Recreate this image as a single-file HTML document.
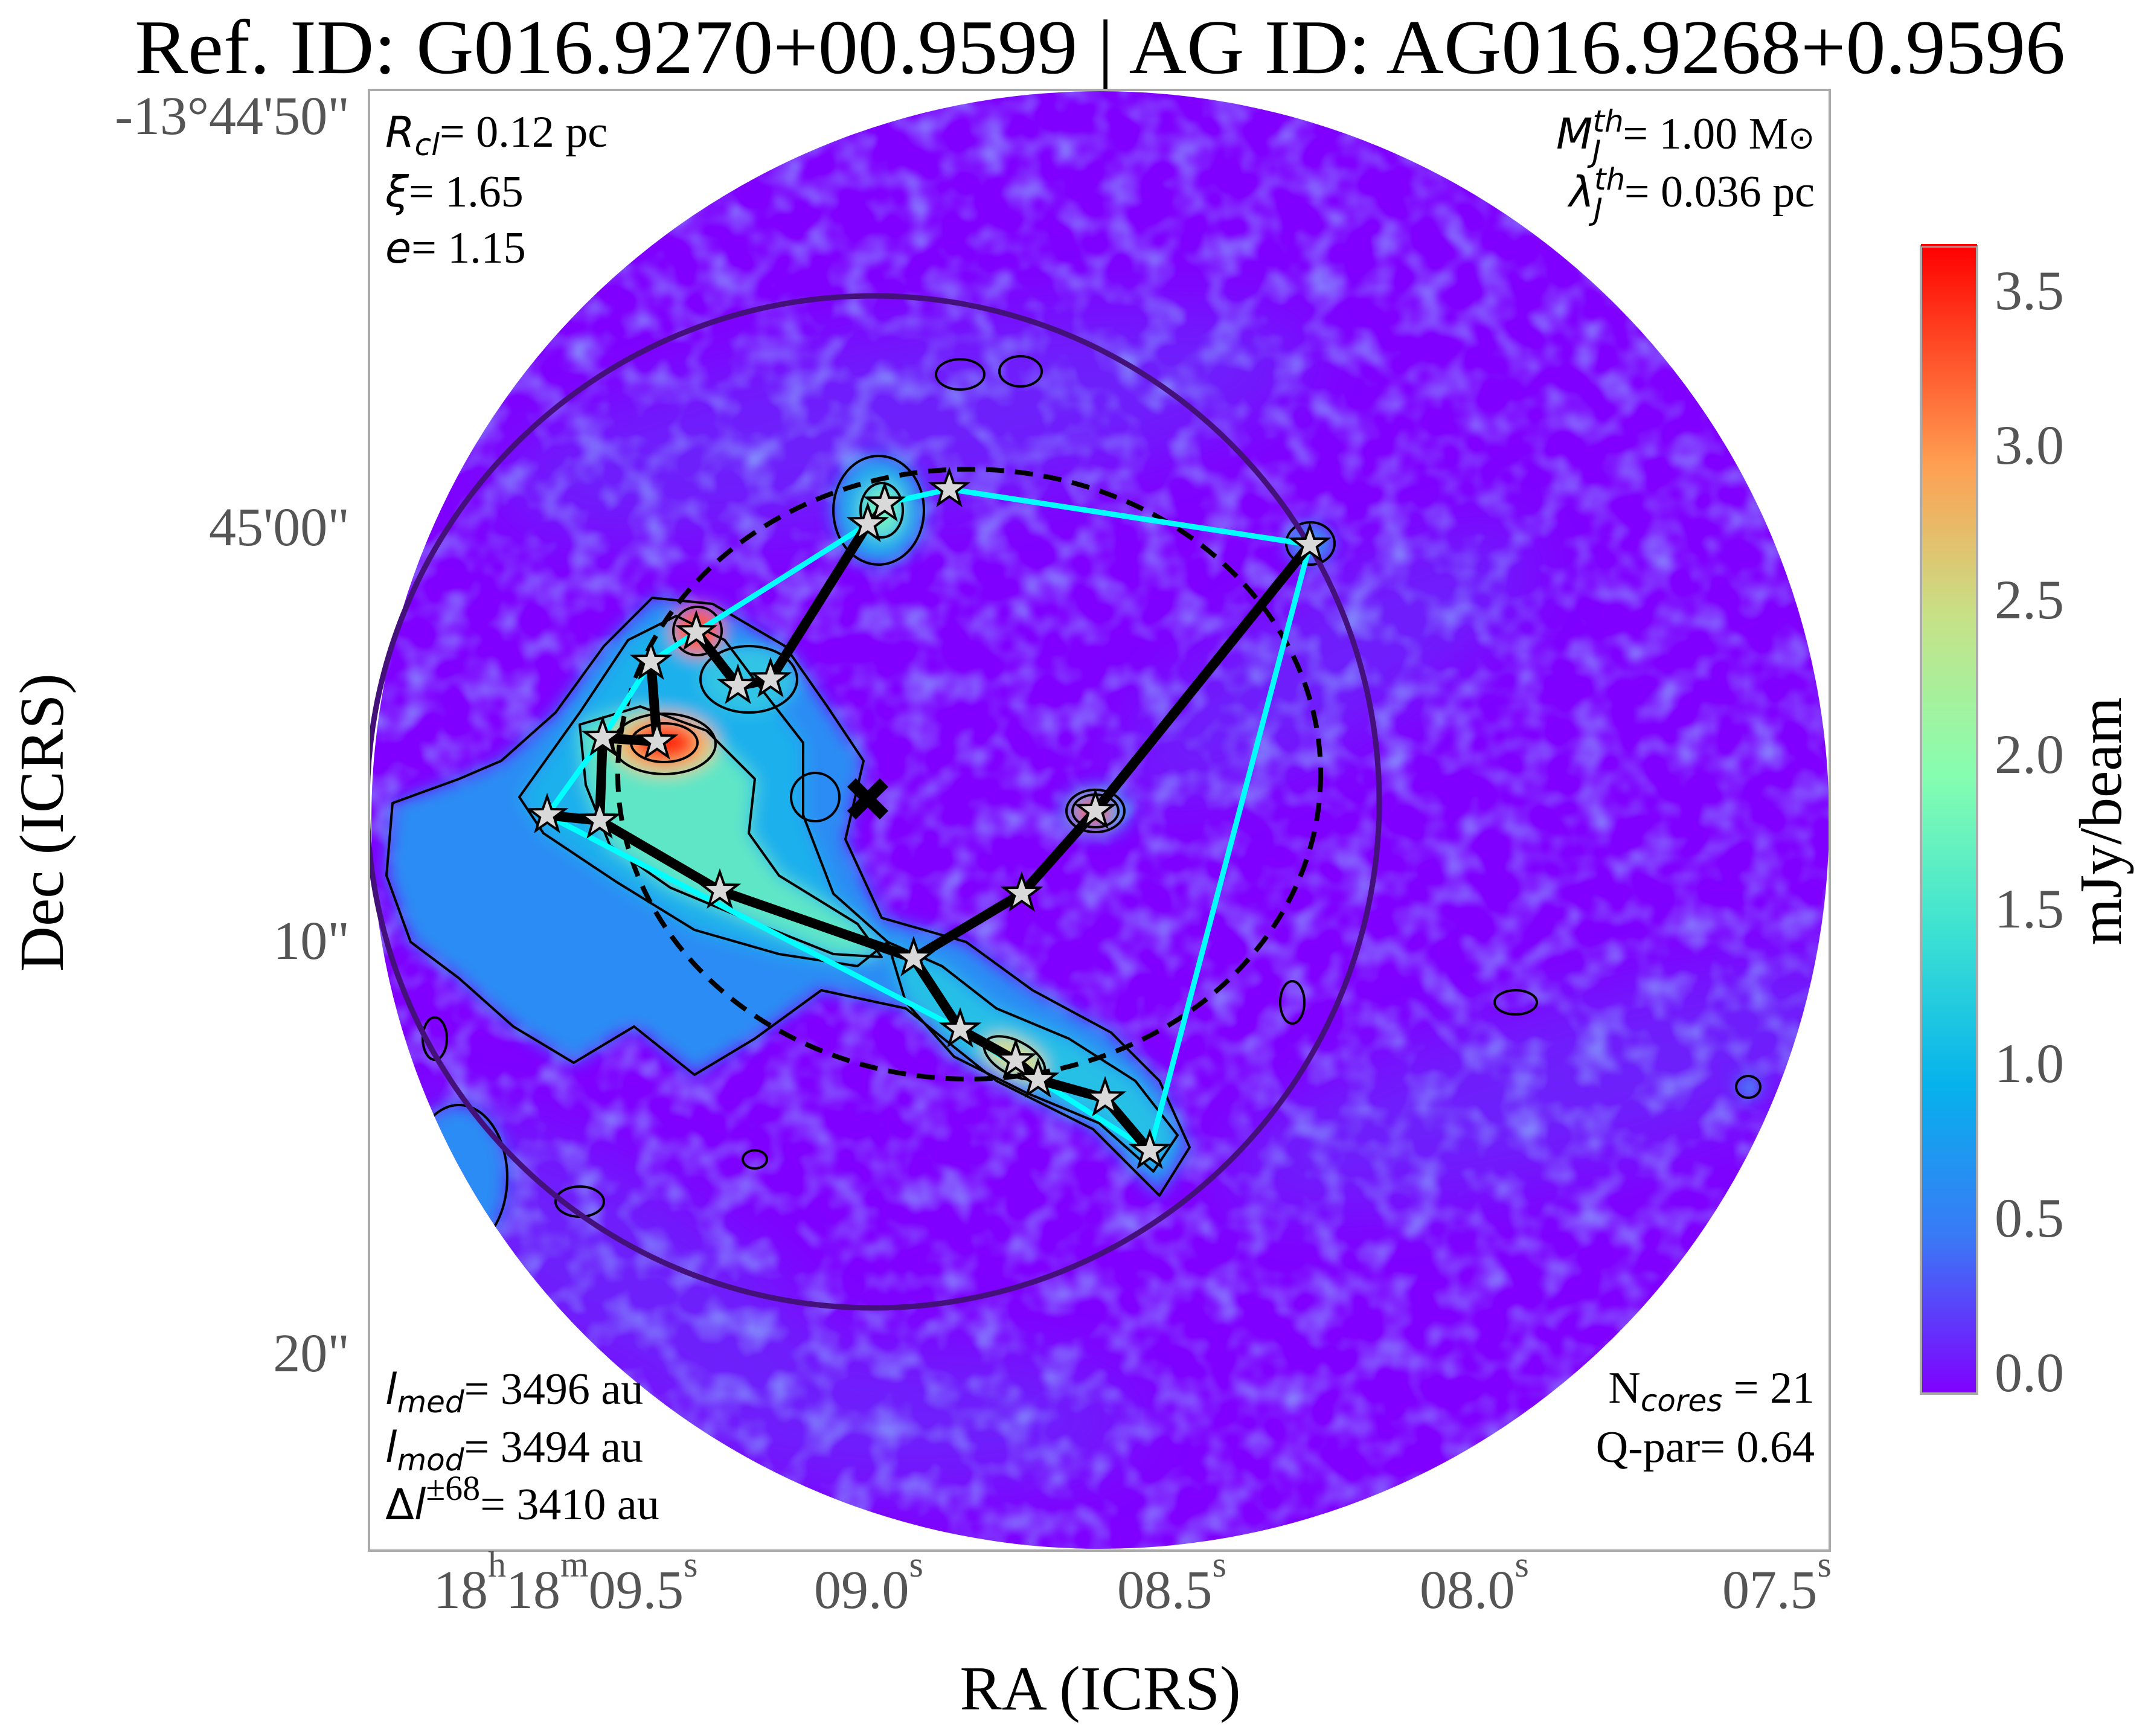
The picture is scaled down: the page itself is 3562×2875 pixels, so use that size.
<!DOCTYPE html>
<html><head><meta charset="utf-8"><style>
html,body{margin:0;padding:0;background:#fff;}
svg{display:block;}
</style></head><body>
<svg xmlns="http://www.w3.org/2000/svg" xmlns:xlink="http://www.w3.org/1999/xlink" width="3562" height="2875" viewBox="0 0 3562 2875">
<defs>
  <clipPath id="ax"><rect x="611" y="149" width="2419" height="2419"/></clipPath>
  <clipPath id="disk"><circle cx="1822" cy="1358" r="1207"/></clipPath>
  <filter id="noise" x="0" y="0" width="100%" height="100%">
    <feTurbulence type="fractalNoise" baseFrequency="0.018" numOctaves="2" seed="7" result="t"/>
    <feColorMatrix in="t" type="matrix" values="0 0 0 0 0.25  0 0 0 0 0.38  0 0 0 0 0.97  2.2 0 0 0 -0.95"/>
  </filter>
  <filter id="bl" x="-20%" y="-20%" width="140%" height="140%"><feGaussianBlur stdDeviation="14"/></filter>
  <filter id="bl2" x="-30%" y="-30%" width="160%" height="160%"><feGaussianBlur stdDeviation="60"/></filter>
  <linearGradient id="cb" x1="0" y1="1" x2="0" y2="0">
    <stop offset="0" stop-color="#8000ff"/>
    <stop offset="0.135" stop-color="#3b78f6"/>
    <stop offset="0.27" stop-color="#06b2ec"/>
    <stop offset="0.405" stop-color="#3ee2d2"/>
    <stop offset="0.54" stop-color="#86feb0"/>
    <stop offset="0.675" stop-color="#c6e288"/>
    <stop offset="0.81" stop-color="#ff9f52"/>
    <stop offset="0.95" stop-color="#ff2c16"/>
    <stop offset="1" stop-color="#ff0000"/>
  </linearGradient>
  <polygon id="st" points="0,-31 7.3,-10 29.5,-9.6 11.8,3.8 18.2,25.1 0,12.4 -18.2,25.1 -11.8,3.8 -29.5,-9.6 -7.3,-10" fill="#d9d9d9" stroke="#000" stroke-width="4" stroke-linejoin="miter"/>
</defs>

<text x="223" y="121" font-family="Liberation Serif, serif" font-size="128" textLength="3197" lengthAdjust="spacingAndGlyphs" fill="#000">Ref. ID: G016.9270+00.9599 | AG ID: AG016.9268+0.9596</text>

<g clip-path="url(#ax)">
 <g clip-path="url(#disk)">
  <rect x="600" y="140" width="2450" height="2440" fill="#7f00ff"/>
  <g filter="url(#bl2)" opacity="0.45">
    <ellipse cx="1500" cy="700" rx="700" ry="150" fill="#5a48f6" transform="rotate(-10 1500 700)"/>
    <ellipse cx="2600" cy="1800" rx="600" ry="140" fill="#5a48f6" transform="rotate(-15 2600 1800)"/>
    <ellipse cx="1000" cy="2100" rx="450" ry="160" fill="#5a48f6" transform="rotate(30 1000 2100)"/>
    <ellipse cx="2200" cy="1100" rx="400" ry="120" fill="#5a48f6" transform="rotate(-30 2200 1100)"/>
    <ellipse cx="1500" cy="2350" rx="400" ry="120" fill="#5a48f6"/>
  </g>
  <rect x="600" y="140" width="2450" height="2440" filter="url(#noise)" opacity="0.75"/>
  <g filter="url(#bl)">
    <polygon fill="#2a8cf4" points="650,1330 760,1290 830,1260 920,1180 1000,1070 1080,990 1180,1000 1300,1070 1370,1170 1430,1260 1400,1390 1460,1520 1600,1560 1710,1640 1840,1710 1920,1790 1970,1900 1920,1980 1810,1870 1650,1790 1500,1670 1360,1640 1250,1720 1150,1780 1050,1700 950,1760 850,1700 760,1620 680,1560 640,1450"/>
    <polygon fill="#1fb0ec" points="860,1320 960,1180 1040,1060 1120,1020 1200,1060 1260,1140 1330,1230 1330,1350 1380,1480 1470,1560 1420,1600 1290,1580 1150,1540 1020,1460 900,1380"/>
    <polygon fill="#5ee6c6" points="960,1200 1060,1170 1170,1210 1250,1290 1240,1380 1290,1450 1420,1530 1460,1585 1380,1580 1230,1520 1110,1470 1010,1400 970,1300"/>
    <ellipse cx="1100" cy="1232" rx="85" ry="50" fill="#f2c070"/>
    <ellipse cx="1100" cy="1230" rx="55" ry="32" fill="#ff2a10"/>
    <polygon fill="#28bfe6" points="1470,1560 1560,1600 1650,1670 1770,1720 1880,1790 1950,1880 1910,1940 1820,1860 1700,1810 1580,1750 1500,1660"/>
    <ellipse cx="1680" cy="1752" rx="55" ry="28" fill="#d8e090" transform="rotate(28 1680 1752)"/>
    <ellipse cx="1455" cy="845" rx="75" ry="90" fill="#24a8ee"/>
    <ellipse cx="1460" cy="845" rx="35" ry="45" fill="#6ff0c8"/>
    <ellipse cx="1240" cy="1125" rx="80" ry="55" fill="#30c4e4"/>
    <ellipse cx="1155" cy="1045" rx="40" ry="40" fill="#ff5a30"/>
    <ellipse cx="1814" cy="1343" rx="55" ry="40" fill="#2ab0ee"/>
    <ellipse cx="1810" cy="1345" rx="30" ry="20" fill="#ff2a10"/>
    <ellipse cx="2170" cy="900" rx="40" ry="35" fill="#3a90f4"/>
    <ellipse cx="760" cy="1950" rx="80" ry="120" fill="#2a8cf4"/>
    <ellipse cx="2895" cy="1800" rx="20" ry="18" fill="#3a90f4"/>
  </g>
  <g fill="none" stroke="#000" stroke-width="4" stroke-linejoin="round">
    <polygon points="650,1330 760,1290 830,1260 920,1180 1000,1070 1080,990 1180,1000 1300,1070 1370,1170 1430,1260 1400,1390 1460,1520 1600,1560 1710,1640 1840,1710 1920,1790 1970,1900 1920,1980 1810,1870 1650,1790 1500,1670 1360,1640 1250,1720 1150,1780 1050,1700 950,1760 850,1700 760,1620 680,1560 640,1450"/>
    <polygon points="860,1320 960,1180 1040,1060 1120,1020 1200,1060 1260,1140 1330,1230 1330,1350 1380,1480 1470,1560 1420,1600 1290,1580 1150,1540 1020,1460 900,1380"/>
    <polygon points="960,1200 1060,1170 1170,1210 1250,1290 1240,1380 1290,1450 1420,1530 1460,1585 1380,1580 1230,1520 1110,1470 1010,1400 970,1300"/>
    <ellipse cx="1100" cy="1232" rx="85" ry="50"/>
    <ellipse cx="1100" cy="1230" rx="55" ry="32"/>
    <polygon points="1470,1560 1560,1600 1650,1670 1770,1720 1880,1790 1950,1880 1910,1940 1820,1860 1700,1810 1580,1750 1500,1660"/>
    <ellipse cx="1680" cy="1752" rx="55" ry="28" transform="rotate(28 1680 1752)"/>
    <ellipse cx="1455" cy="845" rx="75" ry="90"/>
    <ellipse cx="1460" cy="845" rx="35" ry="45"/>
    <ellipse cx="1240" cy="1125" rx="80" ry="55"/>
    <ellipse cx="1155" cy="1045" rx="40" ry="40"/>
    <ellipse cx="1814" cy="1343" rx="48" ry="35"/>
    <ellipse cx="1814" cy="1343" rx="38" ry="27"/>
    <ellipse cx="2170" cy="900" rx="40" ry="35"/>
    <ellipse cx="760" cy="1950" rx="80" ry="120"/>
    <ellipse cx="2895" cy="1800" rx="20" ry="18"/>
    <ellipse cx="960" cy="1990" rx="40" ry="25"/>
    <ellipse cx="1590" cy="620" rx="40" ry="25"/>
    <ellipse cx="1690" cy="615" rx="35" ry="25"/>
    <ellipse cx="2510" cy="1660" rx="35" ry="20"/>
    <ellipse cx="2140" cy="1660" rx="20" ry="35"/>
    <ellipse cx="720" cy="1720" rx="20" ry="35"/>
    <ellipse cx="1250" cy="1920" rx="20" ry="15"/>
    <ellipse cx="1350" cy="1320" rx="40" ry="40"/>
  </g>
 </g>
 <circle cx="1446" cy="1328" r="838" fill="none" stroke="#44107a" stroke-width="9"/>
 <ellipse cx="1605" cy="1282" rx="582" ry="505" fill="none" stroke="#000" stroke-width="8" stroke-dasharray="30,18"/>
 <polyline fill="none" stroke="#00ffff" stroke-width="9" stroke-linejoin="round" points="906,1350 998,1222 1078,1096 1153,1047 1437,868 1465,834 1572,810 2169,902 1904,1906 1719,1788 1590,1705 906,1350"/>
 <g fill="none" stroke="#000" stroke-width="16" stroke-linecap="round" stroke-linejoin="round">
  <polyline points="1437,868 1276,1125 1222,1136 1153,1047"/>
  <polyline points="1078,1096 1088,1228 998,1222 993,1359 906,1350"/>
  <polyline points="993,1359 1192,1475 1513,1587 1692,1480 1814,1343 2169,902"/>
  <polyline points="1513,1587 1590,1705 1682,1756 1719,1788 1830,1819 1904,1906"/>
  <polyline points="1437,868 1465,834" stroke-width="10"/>
 </g>
 <g stroke="#000" stroke-width="20" stroke-linecap="butt">
  <line x1="1410" y1="1296" x2="1464" y2="1350"/><line x1="1464" y1="1296" x2="1410" y2="1350"/>
 </g>
 <use xlink:href="#st" x="1572" y="810"/><use xlink:href="#st" x="1465" y="834"/><use xlink:href="#st" x="1437" y="868"/>
 <use xlink:href="#st" x="2169" y="902"/><use xlink:href="#st" x="1153" y="1047"/><use xlink:href="#st" x="1078" y="1096"/>
 <use xlink:href="#st" x="1222" y="1136"/><use xlink:href="#st" x="1276" y="1125"/><use xlink:href="#st" x="998" y="1222"/>
 <use xlink:href="#st" x="1088" y="1228"/><use xlink:href="#st" x="906" y="1350"/><use xlink:href="#st" x="993" y="1359"/>
 <use xlink:href="#st" x="1814" y="1343"/><use xlink:href="#st" x="1692" y="1480"/><use xlink:href="#st" x="1192" y="1475"/>
 <use xlink:href="#st" x="1513" y="1587"/><use xlink:href="#st" x="1590" y="1705"/><use xlink:href="#st" x="1682" y="1756"/>
 <use xlink:href="#st" x="1719" y="1788"/><use xlink:href="#st" x="1830" y="1819"/><use xlink:href="#st" x="1904" y="1906"/>
</g>
<rect x="611" y="149" width="2419" height="2419" fill="none" stroke="#aaaaaa" stroke-width="4"/>

<g font-family="Liberation Serif, serif" font-size="74" fill="#000">
 <text x="638" y="243"><tspan font-family="DejaVu Sans, sans-serif" font-style="italic" font-size="70">R</tspan><tspan font-family="DejaVu Sans, sans-serif" font-style="italic" font-size="50" dy="14">cl</tspan><tspan dy="-14">= 0.12 pc</tspan></text>
 <text x="638" y="342"><tspan font-family="DejaVu Sans, sans-serif" font-style="italic" font-size="70">ξ</tspan>= 1.65</text>
 <text x="638" y="435"><tspan font-family="DejaVu Sans, sans-serif" font-style="italic" font-size="70">e</tspan>= 1.15</text>
 <text x="3005" y="246" text-anchor="end"><tspan font-family="DejaVu Sans, sans-serif" font-style="italic" font-size="70">M</tspan><tspan font-family="DejaVu Sans, sans-serif" font-style="italic" font-size="50" dy="-28">th</tspan><tspan font-family="DejaVu Sans, sans-serif" font-style="italic" font-size="50" dx="-52" dy="50">J</tspan><tspan dx="36" dy="-22">= 1.00 M</tspan><tspan font-family="DejaVu Sans, sans-serif" font-size="52">⊙</tspan></text>
 <text x="3005" y="342" text-anchor="end"><tspan font-family="DejaVu Sans, sans-serif" font-style="italic" font-size="70">λ</tspan><tspan font-family="DejaVu Sans, sans-serif" font-style="italic" font-size="50" dy="-28">th</tspan><tspan font-family="DejaVu Sans, sans-serif" font-style="italic" font-size="50" dx="-52" dy="50">J</tspan><tspan dx="36" dy="-22">= 0.036 pc</tspan></text>
 <text x="638" y="2325"><tspan font-family="DejaVu Sans, sans-serif" font-style="italic" font-size="70">l</tspan><tspan font-family="DejaVu Sans, sans-serif" font-style="italic" font-size="50" dy="14">med</tspan><tspan dy="-14">= 3496 au</tspan></text>
 <text x="638" y="2421"><tspan font-family="DejaVu Sans, sans-serif" font-style="italic" font-size="70">l</tspan><tspan font-family="DejaVu Sans, sans-serif" font-style="italic" font-size="50" dy="14">mod</tspan><tspan dy="-14">= 3494 au</tspan></text>
 <text x="638" y="2516"><tspan font-family="DejaVu Sans, sans-serif" font-size="70">Δ</tspan><tspan font-family="DejaVu Sans, sans-serif" font-style="italic" font-size="70">l</tspan><tspan font-size="58" dy="-32">±68</tspan><tspan dy="32">= 3410 au</tspan></text>
 <text x="3005" y="2323" text-anchor="end">N<tspan font-family="DejaVu Sans, sans-serif" font-style="italic" font-size="50" dy="14">cores</tspan><tspan dy="-14"> = 21</tspan></text>
 <text x="3005" y="2421" text-anchor="end">Q-par= 0.64</text>
</g>

<g font-family="Liberation Serif, serif" font-size="90" fill="#555" text-anchor="end">
 <text x="579" y="222">-13°44'50"</text>
 <text x="579" y="903">45'00"</text>
 <text x="579" y="1588">10"</text>
 <text x="579" y="2271">20"</text>
</g>
<g font-family="Liberation Serif, serif" font-size="90" fill="#555">
 <text x="718" y="2663">18<tspan font-size="60" dy="-52">h</tspan><tspan dy="52">18</tspan><tspan font-size="60" dy="-52">m</tspan><tspan dy="52">09.5</tspan><tspan font-size="60" dy="-52">s</tspan></text>
 <text x="1348" y="2663">09.0<tspan font-size="60" dy="-52">s</tspan></text>
 <text x="1850" y="2663">08.5<tspan font-size="60" dy="-52">s</tspan></text>
 <text x="2351" y="2663">08.0<tspan font-size="60" dy="-52">s</tspan></text>
 <text x="2852" y="2663">07.5<tspan font-size="60" dy="-52">s</tspan></text>
</g>
<text x="1822" y="2831" text-anchor="middle" font-family="Liberation Serif, serif" font-size="104" fill="#000">RA (ICRS)</text>
<text transform="translate(104 1362) rotate(-90)" text-anchor="middle" font-family="Liberation Serif, serif" font-size="104" fill="#000">Dec (ICRS)</text>

<rect x="3181" y="408" width="93" height="1900" fill="url(#cb)" stroke="#aaaaaa" stroke-width="4"/>
<rect x="3181" y="404" width="93" height="4" fill="#ff0000"/>
<g font-family="Liberation Serif, serif" font-size="92" fill="#555">
 <text x="3303" y="2304">0.0</text>
 <text x="3303" y="2048">0.5</text>
 <text x="3303" y="1792">1.0</text>
 <text x="3303" y="1536">1.5</text>
 <text x="3303" y="1280">2.0</text>
 <text x="3303" y="1024">2.5</text>
 <text x="3303" y="768">3.0</text>
 <text x="3303" y="512">3.5</text>
</g>
<text transform="translate(3512 1360) rotate(-90)" text-anchor="middle" font-family="Liberation Serif, serif" font-size="100" fill="#000">mJy/beam</text>
</svg>
</body></html>
